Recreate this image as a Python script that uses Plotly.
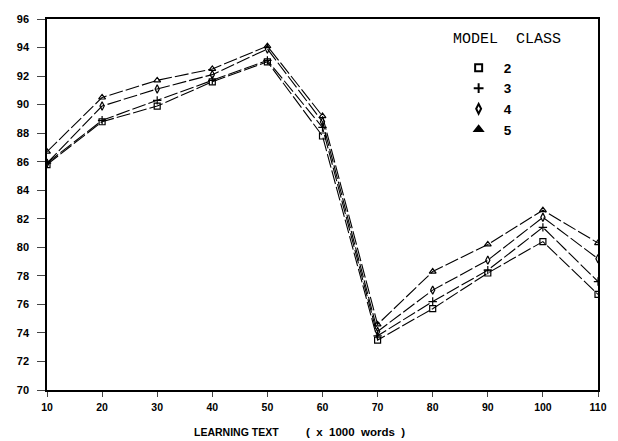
import plotly.graph_objects as go

x_vals = [10, 20, 30, 40, 50, 60, 70, 80, 90, 100, 110]
class2 = [85.8, 88.8, 89.9, 91.6, 93.0, 87.8, 73.5, 75.7, 78.2, 80.4, 76.7]
class3 = [85.9, 88.9, 90.3, 91.7, 93.1, 88.4, 73.8, 76.2, 78.4, 81.4, 77.6]
class4 = [85.9, 89.9, 91.1, 92.1, 93.9, 88.8, 74.1, 77.0, 79.1, 82.1, 79.2]
class5 = [86.7, 90.5, 91.7, 92.5, 94.1, 89.2, 74.6, 78.3, 80.2, 82.6, 80.3]
names = ["2", "3", "4", "5"]
series = [class2, class3, class4, class5]
symbols = ["square-open", "cross-thin", "diamond-tall-open", "triangle-up-open"]
leg_symbols = ["square-open", "cross-thin", "diamond-tall-open", "triangle-up"]

fig = go.Figure()
for nm, ys, sym in zip(names, series, symbols):
    fig.add_trace(go.Scatter(
        x=x_vals, y=ys, mode="lines+markers", name=nm, showlegend=False,
        line=dict(color="black", width=1.1, dash="14px,3px"),
        marker=dict(symbol=sym, size=6, color="black",
                    line=dict(color="black", width=1.2)),
    ))
for nm, sym in zip(names, leg_symbols):
    fig.add_trace(go.Scatter(
        x=[None], y=[None], mode="markers", name=nm,
        marker=dict(symbol=sym, size=7, color="black",
                    line=dict(color="black", width=2)),
    ))

fig.add_annotation(
    text="MODEL  CLASS", xref="paper", yref="paper", x=0.835, y=0.945,
    xanchor="center", yanchor="middle", showarrow=False,
    font=dict(family="Liberation Mono, Courier New", size=15, color="black"),
)
fig.add_annotation(
    text="LEARNING TEXT", xref="paper", yref="paper", x=0.263, y=-0.114,
    xanchor="left", yanchor="middle", showarrow=False,
    font=dict(size=10.5, weight="bold", color="black"),
)
fig.add_annotation(
    text="(  x  1000  words  )", xref="paper", yref="paper", x=0.466, y=-0.114,
    xanchor="left", yanchor="middle", showarrow=False,
    font=dict(size=11.5, weight="bold", color="black"),
)

fig.update_layout(
    width=610, height=433,
    margin=dict(l=39, r=20, t=5, b=51),
    paper_bgcolor="white", plot_bgcolor="white",
    font=dict(family="Liberation Sans, Arial", color="black"),
    showlegend=True,
    legend=dict(
        x=0.738, y=0.91, xanchor="left", yanchor="top",
        font=dict(family="Liberation Sans", size=13.5, weight="bold"),
        bgcolor="rgba(0,0,0,0)", itemwidth=40, tracegroupgap=0,
    ),
    xaxis=dict(
        range=[10, 110], tickvals=x_vals, ticks="outside", ticklen=5,
        showline=True, linecolor="black", linewidth=1.5, mirror=True,
        showgrid=False, zeroline=False, ticklabelstandoff=2,
        tickfont=dict(size=10.5, weight="bold"),
    ),
    yaxis=dict(
        range=[70, 96], dtick=2, ticks="outside", ticklen=8,
        showline=True, linecolor="black", linewidth=1.5, mirror=True,
        showgrid=False, zeroline=False, ticklabelstandoff=6,
        tickfont=dict(size=11, weight="bold"),
    ),
)

fig.write_html("out.html")
